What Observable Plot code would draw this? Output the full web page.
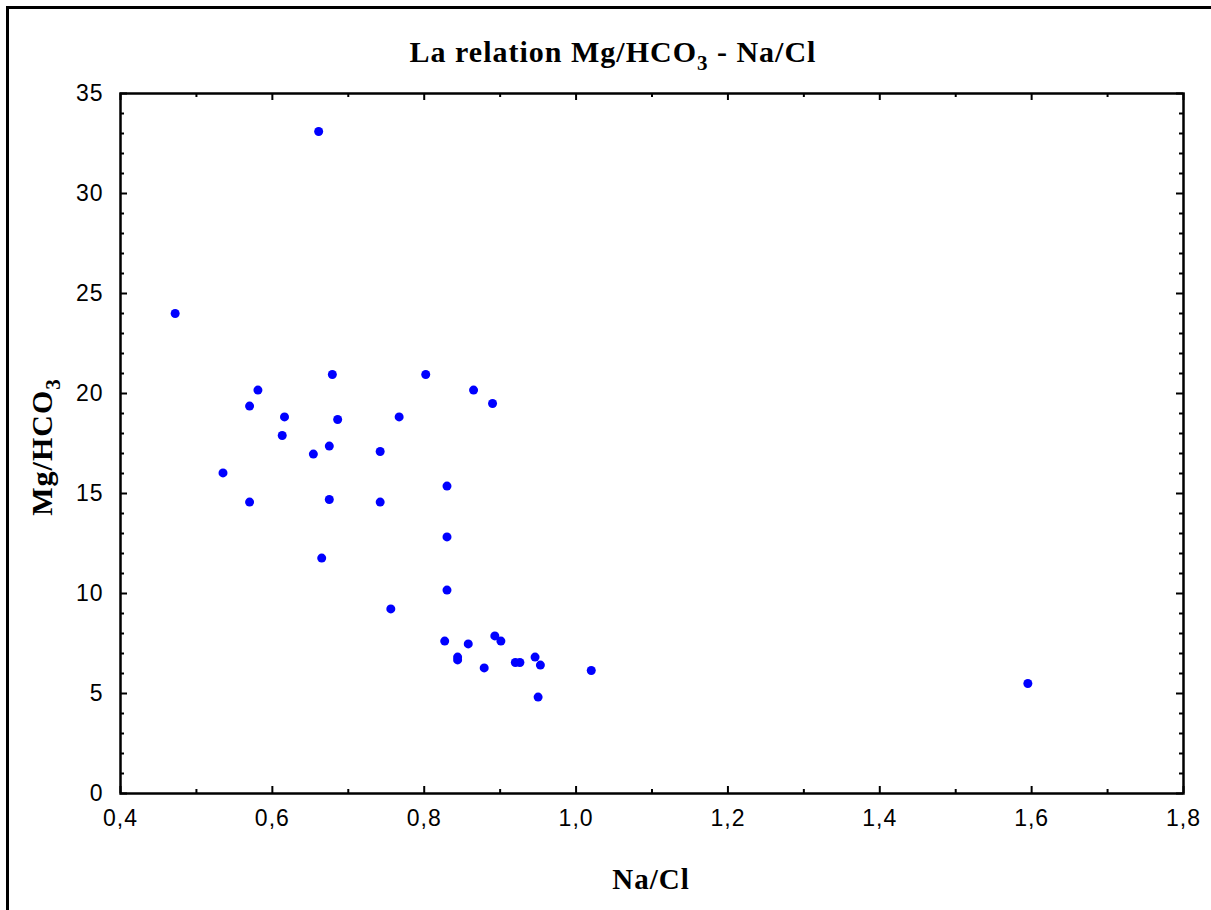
<!DOCTYPE html>
<html>
<head>
<meta charset="utf-8">
<script src="https://cdn.jsdelivr.net/npm/d3@7"></script>
<script src="https://cdn.jsdelivr.net/npm/@observablehq/plot@0.6"></script>
<style>
  html, body { margin: 0; padding: 0; background: #fff; overflow: hidden; }
  #wrap { position: relative; width: 1211px; height: 910px; overflow: hidden; }
  #border { position: absolute; left: 6px; top: 6px; width: 1300px; height: 1000px; border: 3px solid #000; }
  #chart { position: absolute; left: 0; top: 0; }
</style>
</head>
<body>
<div id="wrap">
  <div id="border"></div>
  <div id="chart"></div>
</div>
<script>
// Na/Cl (x) and Mg/HCO3 (y) for each sample
const naCl = [0.472, 0.661, 0.679, 0.802, 0.581, 0.865, 0.890, 0.570, 0.616, 0.767,
              0.686, 0.613, 0.675, 0.654, 0.742, 0.535, 0.830, 0.570, 0.675, 0.742,
              0.830, 0.665, 0.830, 0.756, 0.827, 0.858, 0.893, 0.901, 0.844, 0.844,
              0.879, 0.920, 0.926, 0.946, 0.953, 1.020, 0.950, 1.595];
const mgHco3 = [24.0, 33.1, 20.95, 20.95, 20.17, 20.17, 19.5, 19.37, 18.83, 18.83,
                18.7, 17.9, 17.37, 16.97, 17.1, 16.03, 15.37, 14.57, 14.7, 14.57,
                12.83, 11.77, 10.17, 9.23, 7.62, 7.48, 7.88, 7.62, 6.82, 6.68,
                6.28, 6.55, 6.55, 6.82, 6.42, 6.15, 4.82, 5.5];

const xTicks = [0.4, 0.6, 0.8, 1.0, 1.2, 1.4, 1.6, 1.8];
const xMinorTicks = [0.5, 0.7, 0.9, 1.1, 1.3, 1.5, 1.7];
const yTicks = [0, 5, 10, 15, 20, 25, 30, 35];
const yMinorTicks = d3.range(1, 35).filter(v => v % 5 !== 0);

const titleText = "La relation Mg/HCO";
const titleSub = "3";
const titleTail = " - Na/Cl";
const xLabel = "Na/Cl";
const yLabelMain = "Mg/HCO";
const yLabelSub = "3";

const points = naCl.map((x, i) => ({x, y: mgHco3[i]}));

const W = 1211, H = 910;
const mL = 120, mR = 28, mT = 93, mB = 117;
const innerW = W - mL - mR, innerH = H - mT - mB;
const majLen = 7, minLen = 4;

const fmtX = v => d3.format(".1f")(v).replace(".", ",");

const plot = Plot.plot({
  width: W,
  height: H,
  marginLeft: mL,
  marginRight: mR,
  marginTop: mT,
  marginBottom: mB,
  style: {fontFamily: "Arial, 'Liberation Sans', sans-serif", fontSize: "23px", color: "#000", background: "transparent", overflow: "visible"},
  x: {domain: [0.4, 1.8]},
  y: {domain: [0, 35]},
  marks: [
    Plot.frame({stroke: "#000", strokeWidth: 2.5}),
    // bottom ticks (inward)
    Plot.tickX(xTicks, {x: d => d, insetTop: innerH - majLen, stroke: "#000", strokeWidth: 2}),
    Plot.tickX(xMinorTicks, {x: d => d, insetTop: innerH - minLen, stroke: "#000", strokeWidth: 2}),
    // top ticks (inward)
    Plot.tickX(xTicks, {x: d => d, insetBottom: innerH - majLen, stroke: "#000", strokeWidth: 2}),
    Plot.tickX(xMinorTicks, {x: d => d, insetBottom: innerH - minLen, stroke: "#000", strokeWidth: 2}),
    // left ticks
    Plot.tickY(yTicks, {y: d => d, insetRight: innerW - majLen, stroke: "#000", strokeWidth: 2}),
    Plot.tickY(yMinorTicks, {y: d => d, insetRight: innerW - minLen, stroke: "#000", strokeWidth: 2}),
    // right ticks
    Plot.tickY(yTicks, {y: d => d, insetLeft: innerW - majLen, stroke: "#000", strokeWidth: 2}),
    Plot.tickY(yMinorTicks, {y: d => d, insetLeft: innerW - minLen, stroke: "#000", strokeWidth: 2}),
    Plot.axisX(xTicks, {tickSize: 0, tickPadding: 16, tickFormat: fmtX, label: null, fill: "#000"}),
    Plot.axisY(yTicks, {tickSize: 0, tickPadding: 17, tickFormat: d => String(d), label: null, fill: "#000"}),
    Plot.dot(points, {x: "x", y: "y", r: 4.5, fill: "#0000ff", stroke: null})
  ]
});

document.getElementById("chart").appendChild(plot);

const svg = d3.select(plot);
svg.selectAll("g[aria-label='x-axis tick label'] text, g[aria-label='y-axis tick label'] text")
  .style("letter-spacing", "1px");

// Title
const t = svg.append("text")
  .attr("x", 613).attr("y", 62)
  .attr("text-anchor", "middle")
  .style("font-family", "'Times New Roman', 'Liberation Serif', serif")
  .style("font-weight", "bold").style("font-size", "30px").style("letter-spacing", "1px")
  .attr("fill", "#000");
t.append("tspan").text(titleText);
t.append("tspan").attr("dy", 8).style("font-size", "21px").text(titleSub);
t.append("tspan").attr("dy", -8).text(titleTail);

// X label
svg.append("text")
  .attr("x", 651).attr("y", 889)
  .attr("text-anchor", "middle")
  .style("font-family", "'Times New Roman', 'Liberation Serif', serif")
  .style("font-weight", "bold").style("font-size", "29px").style("letter-spacing", "1px")
  .attr("fill", "#000")
  .text(xLabel);

// Y label
const yl = svg.append("text")
  .attr("transform", "translate(52,447) rotate(-90)")
  .attr("text-anchor", "middle")
  .style("font-family", "'Times New Roman', 'Liberation Serif', serif")
  .style("font-weight", "bold").style("font-size", "30px").style("letter-spacing", "1px")
  .attr("fill", "#000");
yl.append("tspan").text(yLabelMain);
yl.append("tspan").attr("dy", 8).style("font-size", "21px").text(yLabelSub);
</script>
</body>
</html>
